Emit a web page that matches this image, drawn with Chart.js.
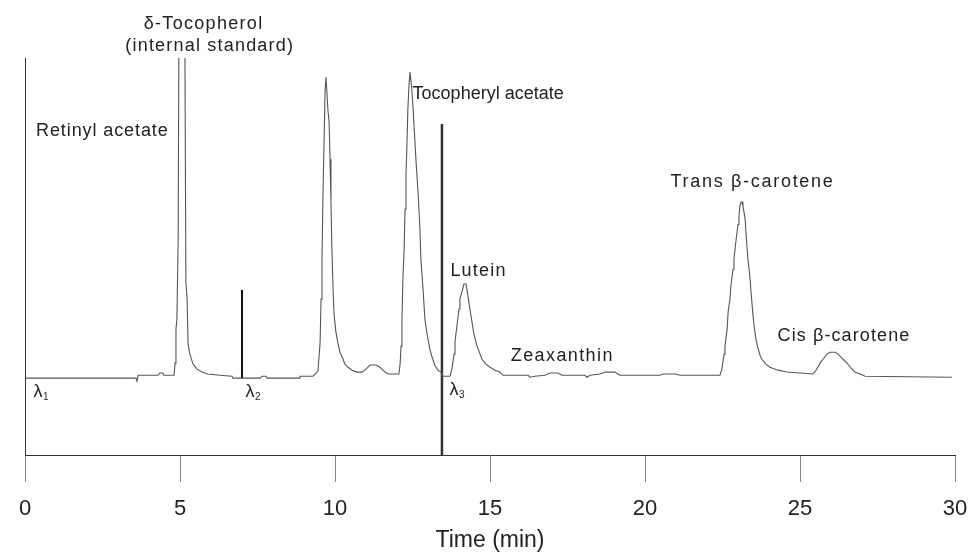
<!DOCTYPE html>
<html>
<head>
<meta charset="utf-8">
<script src="https://cdn.jsdelivr.net/npm/chart.js@4.4.1/dist/chart.umd.min.js"></script>
<style>
  html, body { margin: 0; padding: 0; background: #fff; }
  #wrap { width: 969px; height: 559px; position: relative; }
</style>
</head>
<body>
<div id="wrap"><canvas id="c" width="969" height="559"></canvas></div>
<script>
// Retention time (min) of each detector sample
const times = [0, 3.58, 3.61, 3.65, 4.29, 4.35, 4.45, 4.48, 4.81, 4.84, 4.87, 4.90, 4.94, 4.97, 5.06, 5.15, 5.16, 5.19, 5.23, 5.26, 5.32, 5.42, 5.55, 5.71, 5.90, 6.29, 6.68, 6.71,
  7.58, 7.65, 7.77, 7.81, 8.84, 8.87, 9.29, 9.39, 9.45, 9.48, 9.52, 9.55, 9.58, 9.61, 9.65, 9.68, 9.71, 9.74, 9.77, 9.81, 9.84, 9.87, 9.90, 9.94, 9.97, 10.03, 10.10, 10.16, 10.26, 10.32, 10.42, 10.55, 10.71, 10.87, 11.0, 11.13, 11.32, 11.45, 11.58, 11.71,
  12.06, 12.10, 12.13, 12.16, 12.19, 12.23, 12.26, 12.29, 12.32, 12.35, 12.39, 12.42, 12.45, 12.48, 12.52, 12.55, 12.61, 12.68, 12.74, 12.77, 12.84, 12.90, 12.97, 13.06, 13.13, 13.23, 13.32, 13.42,
  13.48, 13.71, 13.77, 13.84, 13.87, 13.94, 14.0, 14.03, 14.10, 14.16, 14.23, 14.29, 14.35, 14.42, 14.48, 14.58, 14.68, 14.74, 14.87, 15.0, 15.16, 15.32, 15.42, 16.23, 16.29, 16.45, 16.77, 16.94, 17.19, 17.32, 18.06, 18.13, 18.23, 18.55, 18.71, 19.03, 19.19, 20.48, 20.58, 20.97, 21.13, 22.42,
  22.48, 22.55, 22.58, 22.65, 22.68, 22.74, 22.77, 22.84, 22.87, 22.94, 22.97, 23.0, 23.03, 23.06, 23.10, 23.13, 23.16, 23.23, 23.26, 23.32, 23.39, 23.42, 23.48, 23.52, 23.58, 23.65, 23.71, 23.77, 23.90, 24.03, 24.29, 24.58, 25.0, 25.42,
  25.52, 25.65, 25.74, 25.87, 25.97, 26.13, 26.23, 26.39, 26.52, 26.65, 26.77, 26.94, 27.10, 29.90];
// Detector response (arbitrary units, baseline = 0)
const response = [0, 0, -0.9, 0.9, 0.9, 1.6, 1.6, 0.9, 0.9, 4.7, 15.3, 18.4, 43, 120, 160, 120, 100, 30, 24.7, 10.6, 7.5, 4.4, 2.8, 1.9, 1.3, 0.9, 0.6, 0,
  0, 0.6, 0.6, 0, 0, 0.6, 0.6, 1.6, 2.2, 5.9, 11.3, 24.7, 37.2, 56, 75.3, 90, 94, 94, 84, 80, 68.4, 55, 40.3, 26.9, 20, 14.4, 10.6, 8.1, 5.9, 4.4, 3.4, 2.5, 1.9, 1.9, 2.8, 4.1, 4.1, 3.4, 2.2, 1.3,
  1.3, 4.4, 10, 18.4, 31, 40.3, 52.8, 63.8, 72.5, 84, 92, 95.6, 95.6, 90, 84, 78.8, 68.4, 58, 46.6, 37.2, 27.8, 18.4, 13.8, 9.1, 6.6, 3.8, 2.5, 1.9,
  0.6, 0.6, 2.8, 7.5, 11.3, 16.9, 21.6, 24.7, 27.2, 29.4, 29.4, 25.6, 21.6, 17.5, 13.8, 10, 7.5, 5.9, 4.4, 3.4, 2.5, 1.9, 0.9, 0.9, 0.3, 0.6, 0.9, 1.6, 1.6, 0.9, 0.9, 0.3, 0.9, 1.3, 1.9, 1.9, 0.9, 0.9, 1.3, 1.3, 0.9, 0.9,
  2.8, 7.5, 10, 15.3, 20.6, 24.7, 28.8, 34, 37.2, 43.4, 45.6, 48, 50.6, 53.8, 55, 55, 53.8, 49.7, 45, 37.2, 31, 26.9, 20, 16.3, 12.2, 9.1, 7.2, 5.9, 4.4, 3.4, 2.5, 1.9, 1.6, 1.3,
  2.5, 4.7, 5.9, 7.5, 8.1, 8.1, 7.5, 5.9, 4.7, 3.1, 1.9, 1.3, 0.6, 0.3];
// Wavelength switch markers: time, top, bottom
const switch2 = [{x: 7.0, y: 0}, {x: 7.0, y: 27.5}];
const switch3 = [{x: 13.45, y: 79.4}, {x: 13.45, y: -24}];
// Peak labels: text, time, response
const peakLabels = [
  ["\u03B4-Tocopherol", 5.74, 110.6],
  ["(internal standard)", 5.94, 103.75],
  ["Retinyl acetate", 2.48, 77.2],
  ["Tocopheryl acetate", 14.94, 88.75],
  ["Lutein", 14.61, 33.4],
  ["Zeaxanthin", 17.31, 6.9],
  ["Trans \u03B2-carotene", 23.44, 61.25],
  ["Cis \u03B2-carotene", 26.40, 13.1]
];
// Wavelength labels: subscript, time, response
const lambdaLabels = [["1", 0.42, -4.4], ["2", 7.26, -4.4], ["3", 13.84, -3.8]];
const xTicks = [0, 5, 10, 15, 20, 25, 30];

// letter spacing (px) for each peak label, matching the loose typesetting of the original
const labelSpacing = [1.3, 1.2, 0.9, 0, 1.2, 1.4, 1.7, 1.1];

const chromPoints = times.map((t, i) => ({x: t, y: response[i]}));

const labelPlugin = {
  id: 'labels',
  afterDraw(chart) {
    const ctx = chart.ctx, xs = chart.scales.x, ys = chart.scales.y;
    ctx.save();
    ctx.fillStyle = '#222';
    ctx.textBaseline = 'middle';
    ctx.font = '18px "Liberation Sans", Arial, sans-serif';
    peakLabels.forEach(([txt, t, v], i) => {
      ctx.letterSpacing = labelSpacing[i] + 'px';
      ctx.textAlign = 'left';
      const w = ctx.measureText(txt).width - labelSpacing[i];
      ctx.fillText(txt, xs.getPixelForValue(t) - w / 2, ys.getPixelForValue(v));
    });
    ctx.letterSpacing = '0px';
    lambdaLabels.forEach(([sub, t, v]) => {
      const px = xs.getPixelForValue(t), py = ys.getPixelForValue(v);
      ctx.font = '18px "Liberation Sans", Arial, sans-serif';
      ctx.textAlign = 'center';
      ctx.fillText('\u03BB', px, py);
      ctx.font = '10px "Liberation Sans", Arial, sans-serif';
      ctx.textAlign = 'left';
      ctx.fillText(sub, px + 5, py + 5);
    });
    ctx.restore();
  }
};

new Chart(document.getElementById('c'), {
  type: 'line',
  data: {
    datasets: [
      { data: chromPoints, borderColor: '#555', borderWidth: 1.1, pointRadius: 0, tension: 0, fill: false },
      { data: switch2, borderColor: '#111', borderWidth: 2, pointRadius: 0, fill: false },
      { data: switch3, borderColor: '#333', borderWidth: 2.5, pointRadius: 0, fill: false }
    ]
  },
  options: {
    responsive: false,
    animation: false,
    events: [],
    layout: { padding: { left: 17, right: 14, top: 58, bottom: 0 } },
    plugins: { legend: { display: false }, tooltip: { enabled: false } },
    scales: {
      x: {
        type: 'linear', min: 0, max: 30,
        afterBuildTicks(scale) { scale.ticks = xTicks.map(v => ({value: v})); },
        afterFit(scale) { scale.paddingLeft = 0; scale.paddingRight = 0; },
        grid: { drawOnChartArea: false, tickLength: 27, color: '#888', tickWidth: 1 },
        border: { display: true, color: '#333', width: 1 },
        ticks: { color: '#222', padding: 14, font: { family: '"Liberation Sans", Arial, sans-serif', size: 22 }, maxRotation: 0 },
        title: { display: true, text: 'Time (min)', color: '#222', padding: { top: -10, bottom: 5 }, font: { family: '"Liberation Sans", Arial, sans-serif', size: 23 } }
      },
      y: {
        type: 'linear', min: -24, max: 100,
        grid: { display: false },
        border: { display: true, color: '#333', width: 1 },
        ticks: { display: false }
      }
    }
  },
  plugins: [labelPlugin]
});
</script>
</body>
</html>
